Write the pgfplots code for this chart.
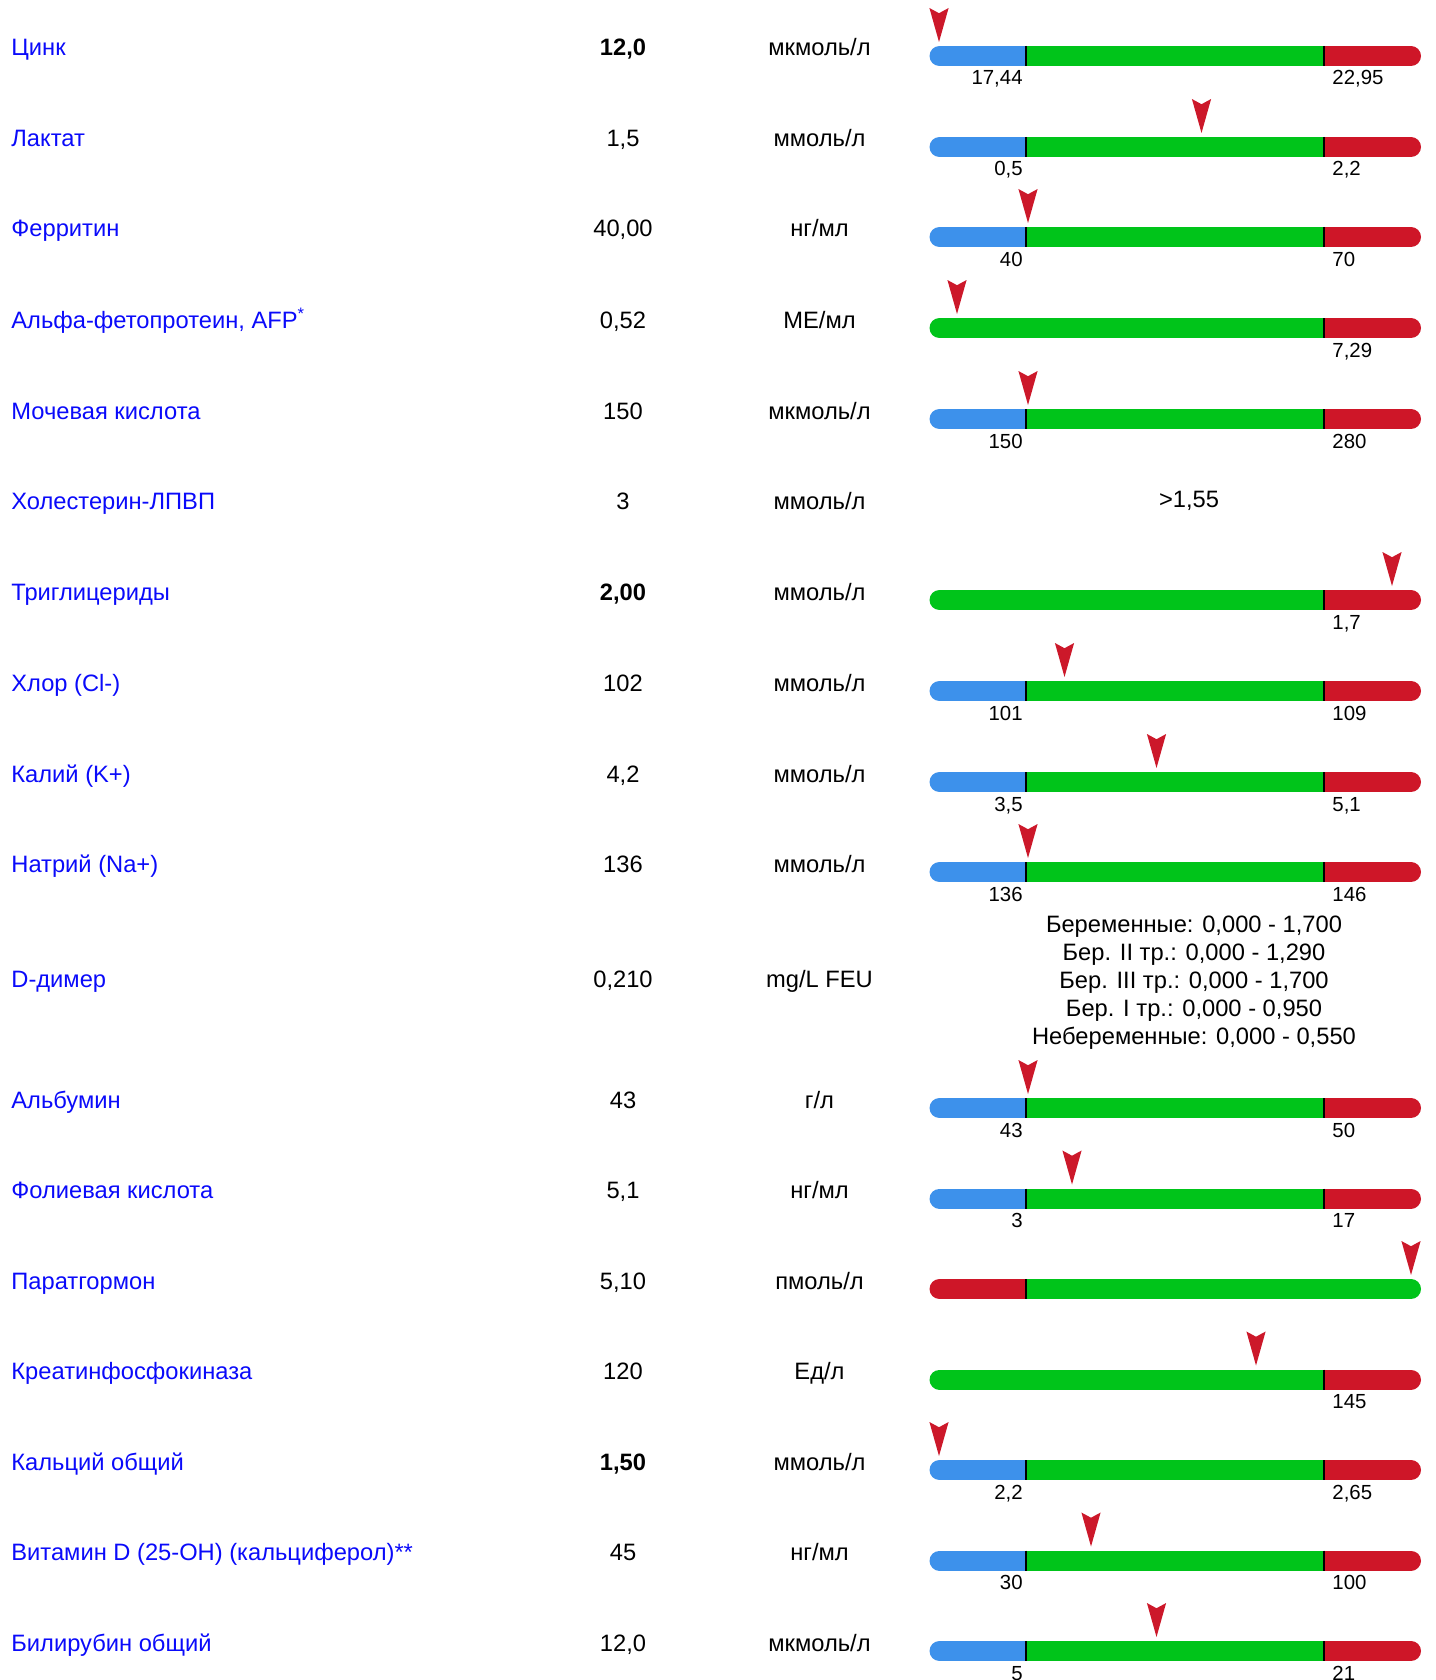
\documentclass[border=0pt]{standalone}
\usepackage{fontspec}
\setmainfont{Liberation Sans}
\usepackage{pgfplots}
\pgfplotsset{compat=1.18}
\definecolor{barblue}{RGB}{61,145,235}
\definecolor{bargreen}{RGB}{0,196,26}
\definecolor{barred}{RGB}{206,22,40}
\definecolor{markred}{RGB}{204,24,42}
\definecolor{namecol}{RGB}{10,10,250}
\pgfdeclareplotmark{pin}{%
  \pgfpathmoveto{\pgfpoint{0pt}{0pt}}%
  \pgfpathlineto{\pgfpoint{-4.8pt}{17pt}}%
  \pgfpathlineto{\pgfpoint{0pt}{14.4pt}}%
  \pgfpathlineto{\pgfpoint{4.8pt}{17pt}}%
  \pgfpathclose
  \pgfusepathqfill}
% bar types, #1 = bar centre (px)
\newcommand{\BGR}[1]{%
  \addplot[barblue, line width=10pt, line cap=round] coordinates {(939.5,#1) (1026,#1)};
  \addplot[barred, line width=10pt, line cap=round] coordinates {(1324,#1) (1411,#1)};
  \addplot[bargreen, line width=10pt, line cap=butt] coordinates {(1026,#1) (1324,#1)};
  \addplot[only marks, mark=|, mark size=5pt, mark options={black, line width=1pt}] coordinates {(1026,#1) (1324,#1)};
}
\newcommand{\GR}[1]{%
  \addplot[barred, line width=10pt, line cap=round] coordinates {(1324,#1) (1411,#1)};
  \addplot[bargreen, line width=10pt, line cap=round] coordinates {(939.5,#1) (1324,#1)};
  \addplot[barred, line width=10pt, line cap=butt] coordinates {(1324,#1) (1411,#1)};
  \addplot[only marks, mark=|, mark size=5pt, mark options={black, line width=1pt}] coordinates {(1324,#1)};
}
\newcommand{\RG}[1]{%
  \addplot[bargreen, line width=10pt, line cap=round] coordinates {(1026,#1) (1411,#1)};
  \addplot[barred, line width=10pt, line cap=round] coordinates {(939.5,#1) (1026,#1)};
  \addplot[bargreen, line width=10pt, line cap=butt] coordinates {(1026,#1) (1411,#1)};
  \addplot[only marks, mark=|, mark size=5pt, mark options={black, line width=1pt}] coordinates {(1026,#1)};
}
% #1 marker x, #2 tip y
\newcommand{\Pin}[2]{\addplot[only marks, mark=pin, color=markred] coordinates {(#1,#2)};}
% row text: #1 y, #2 name, #3 value, #4 unit
\newcommand{\Row}[4]{%
  \node[anchor=base west, inner sep=0pt, text=namecol] at (axis cs:11,#1) {#2};
  \node[anchor=base, inner sep=0pt] at (axis cs:623,#1) {#3};
  \node[anchor=base, inner sep=0pt] at (axis cs:819.5,#1) {#4};
}
% labels: #1 label baseline, #2 text
\newcommand{\Lo}[2]{\node[anchor=base east, inner sep=0pt, font=\fontsize{10.2}{12}\selectfont] at (axis cs:1023,#1) {#2};}
\newcommand{\Hi}[2]{\node[anchor=base west, inner sep=0pt, font=\fontsize{10.2}{12}\selectfont] at (axis cs:1332,#1) {#2};}
\begin{document}
\fontsize{11.85}{14}\selectfont
\begin{tikzpicture}
\begin{axis}[
  scale only axis, width=717.5pt, height=840pt,
  xmin=0, xmax=1435, ymin=0, ymax=1680, y dir=reverse,
  hide axis, clip=false,
]
% 0 Zinc
\Row{56}{Цинк}{\textbf{12,0}}{мкмоль/л}
\BGR{56}\Pin{939}{42}\Lo{85}{17,44}\Hi{85}{22,95}
% 1 Lactate
\Row{147}{Лактат}{1,5}{ммоль/л}
\BGR{147}\Pin{1201.5}{133}\Lo{176}{0,5}\Hi{176}{2,2}
% 2 Ferritin
\Row{237}{Ферритин}{40,00}{нг/мл}
\BGR{237}\Pin{1028}{223}\Lo{266}{40}\Hi{266}{70}
% 3 AFP
\Row{328}{Альфа-фетопротеин, AFP\textsuperscript{*}}{0,52}{МЕ/мл}
\GR{328}\Pin{957}{314}\Hi{357}{7,29}
% 4 Uric acid
\Row{419}{Мочевая кислота}{150}{мкмоль/л}
\BGR{419}\Pin{1028}{405}\Lo{448}{150}\Hi{448}{280}
% 5 HDL
\Row{509.5}{Холестерин-ЛПВП}{3}{ммоль/л}
\node[anchor=base, inner sep=0pt] at (axis cs:1189,507) {>1,55};
% 6 TG
\Row{600}{Триглицериды}{\textbf{2,00}}{ммоль/л}
\GR{600}\Pin{1392}{586}\Hi{629}{1,7}
% 7 Cl
\Row{691}{Хлор (Cl-)}{102}{ммоль/л}
\BGR{691}\Pin{1064.5}{677}\Lo{720}{101}\Hi{720}{109}
% 8 K
\Row{782}{Калий (K+)}{4,2}{ммоль/л}
\BGR{782}\Pin{1156.5}{768}\Lo{811}{3,5}\Hi{811}{5,1}
% 9 Na
\Row{872}{Натрий (Na+)}{136}{ммоль/л}
\BGR{872}\Pin{1028}{858}\Lo{901}{136}\Hi{901}{146}
% 10 D-dimer
\Row{987}{D-димер}{0,210}{mg/L FEU}
\node[anchor=base, inner sep=0pt] at (axis cs:1194,932) {Беременные: 0,000 - 1,700};
\node[anchor=base, inner sep=0pt] at (axis cs:1194,960) {Бер. II тр.: 0,000 - 1,290};
\node[anchor=base, inner sep=0pt] at (axis cs:1194,988) {Бер. III тр.: 0,000 - 1,700};
\node[anchor=base, inner sep=0pt] at (axis cs:1194,1016) {Бер. I тр.: 0,000 - 0,950};
\node[anchor=base, inner sep=0pt] at (axis cs:1194,1044) {Небеременные: 0,000 - 0,550};
% 11 Albumin
\Row{1108}{Альбумин}{43}{г/л}
\BGR{1108}\Pin{1028}{1094}\Lo{1137}{43}\Hi{1137}{50}
% 12 Folic
\Row{1198.5}{Фолиевая кислота}{5,1}{нг/мл}
\BGR{1198.5}\Pin{1072}{1184.5}\Lo{1227.5}{3}\Hi{1227.5}{17}
% 13 PTH
\Row{1289}{Паратгормон}{5,10}{пмоль/л}
\RG{1289}\Pin{1411}{1275}
% 14 CPK
\Row{1379.5}{Креатинфосфокиназа}{120}{Ед/л}
\GR{1379.5}\Pin{1256}{1365.5}\Hi{1408.5}{145}
% 15 Ca
\Row{1470}{Кальций общий}{\textbf{1,50}}{ммоль/л}
\BGR{1470}\Pin{939}{1456}\Lo{1499}{2,2}\Hi{1499}{2,65}
% 16 Vit D
\Row{1560.5}{Витамин D (25-OH) (кальциферол)**}{45}{нг/мл}
\BGR{1560.5}\Pin{1091}{1546.5}\Lo{1589.5}{30}\Hi{1589.5}{100}
% 17 Bilirubin
\Row{1651}{Билирубин общий}{12,0}{мкмоль/л}
\BGR{1651}\Pin{1156.5}{1637}\Lo{1680}{5}\Hi{1680}{21}
\end{axis}
\pgfresetboundingbox
\path[use as bounding box] (0,0) rectangle (717.5pt,840pt);
\end{tikzpicture}
\end{document}
